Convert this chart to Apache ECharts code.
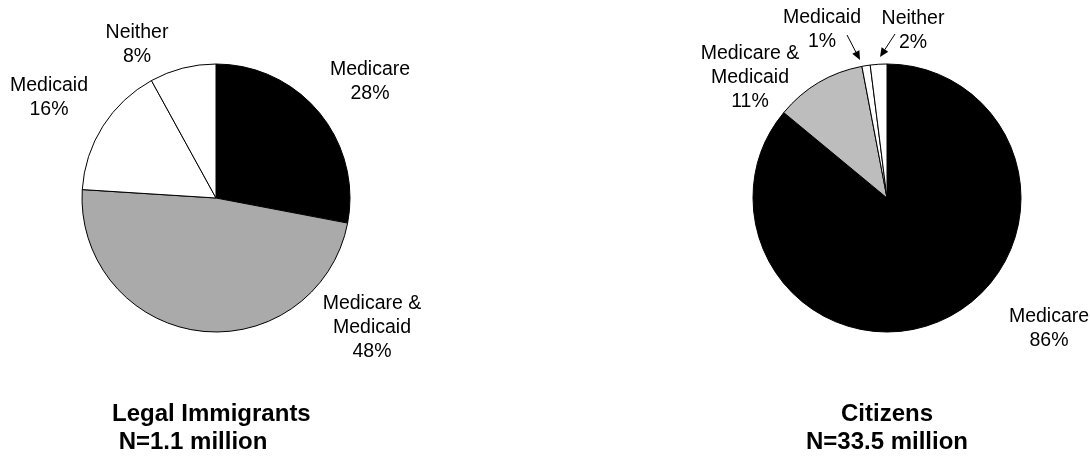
<!DOCTYPE html>
<html>
<head>
<meta charset="utf-8">
<style>
  html, body { margin: 0; padding: 0; background: #ffffff; }
  #chart { width: 1090px; height: 460px; }
</style>
<script src="https://cdn.jsdelivr.net/npm/echarts@6/dist/echarts.min.js"></script>
</head>
<body>
<div id="chart"></div>
<script>
// Coverage categories, in clockwise order starting at 12 o'clock
const categories = ['Medicare', 'Medicare & Medicaid', 'Medicaid', 'Neither'];
// Share of each group (percent)
const immigrantShares = [28, 48, 16, 8];
const citizenShares = [86, 11, 1, 2];
// Caption lines under each pie
const groupNames = ['Legal Immigrants', 'Citizens'];
const groupSizes = ['N=1.1 million', 'N=33.5 million'];

const FONT = '"Liberation Sans", Arial, Helvetica, sans-serif';

// Slice fills per pie (black / grey / white / white)
const fills = [
  ['#000000', '#aaaaaa', '#ffffff', '#ffffff'],
  ['#000000', '#bdbdbd', '#ffffff', '#ffffff']
];

// Pie placement
const pieCenters = [[216, 198], [887, 198]];
const pieRadius = 134;

// Label anchor points (centre of each text block), per pie, per category
const labelSpots = [
  [[370, 82], [372, 328], [49, 98], [137, 45]],
  [[1049, 329], [750, 78], [822, 30], [913, 31]]
];

function buildSeries(shares, idx) {
  return {
    type: 'pie',
    center: pieCenters[idx],
    radius: pieRadius,
    startAngle: 90,
    clockwise: true,
    avoidLabelOverlap: false,
    animation: false,
    silent: true,
    data: categories.map((name, i) => ({
      name: name,
      value: shares[i],
      itemStyle: { color: fills[idx][i] }
    })),
    itemStyle: { borderColor: '#000000', borderWidth: 1 },
    label: {
      show: true,
      position: 'outside',
      formatter: p => p.name.replace('& ', '&\n') + '\n' + p.value + '%',
      fontFamily: FONT,
      fontSize: 19.5,
      lineHeight: 24,
      color: '#000000',
      align: 'center'
    },
    labelLine: { show: false },
    labelLayout: p => ({
      x: labelSpots[idx][p.dataIndex][0],
      y: labelSpots[idx][p.dataIndex][1],
      align: 'center',
      verticalAlign: 'middle'
    }),
    emphasis: { disabled: true }
  };
}

// Small leader arrows pointing at the two thin citizen slices
function arrow(x1, y1, x2, y2) {
  const ang = Math.atan2(y2 - y1, x2 - x1);
  const len = 9, half = 4;
  const bx = x2 - len * Math.cos(ang), by = y2 - len * Math.sin(ang);
  const px = -Math.sin(ang) * half, py = Math.cos(ang) * half;
  return [
    { type: 'line', shape: { x1: x1, y1: y1, x2: bx, y2: by },
      style: { stroke: '#000', lineWidth: 1 }, silent: true },
    { type: 'polygon', shape: { points: [[x2, y2], [bx + px, by + py], [bx - px, by - py]] },
      style: { fill: '#000' }, silent: true }
  ];
}

const captions = [
  { type: 'text', x: 112, y: 400,
    style: { text: groupNames[0] + '\n ' + groupSizes[0], font: 'bold 24px ' + FONT,
             lineHeight: 28, fill: '#000', textAlign: 'left', textVerticalAlign: 'top' } },
  { type: 'text', x: 887, y: 400,
    style: { text: groupNames[1] + '\n' + groupSizes[1], font: 'bold 24px ' + FONT,
             lineHeight: 28, fill: '#000', textAlign: 'center', textVerticalAlign: 'top' } }
];

const chart = echarts.init(document.getElementById('chart'), null, { renderer: 'canvas' });
chart.setOption({
  backgroundColor: '#ffffff',
  animation: false,
  series: [buildSeries(immigrantShares, 0), buildSeries(citizenShares, 1)],
  graphic: captions
    .concat(arrow(847, 35, 860, 60))
    .concat(arrow(895, 34, 880, 57))
});
</script>
</body>
</html>
